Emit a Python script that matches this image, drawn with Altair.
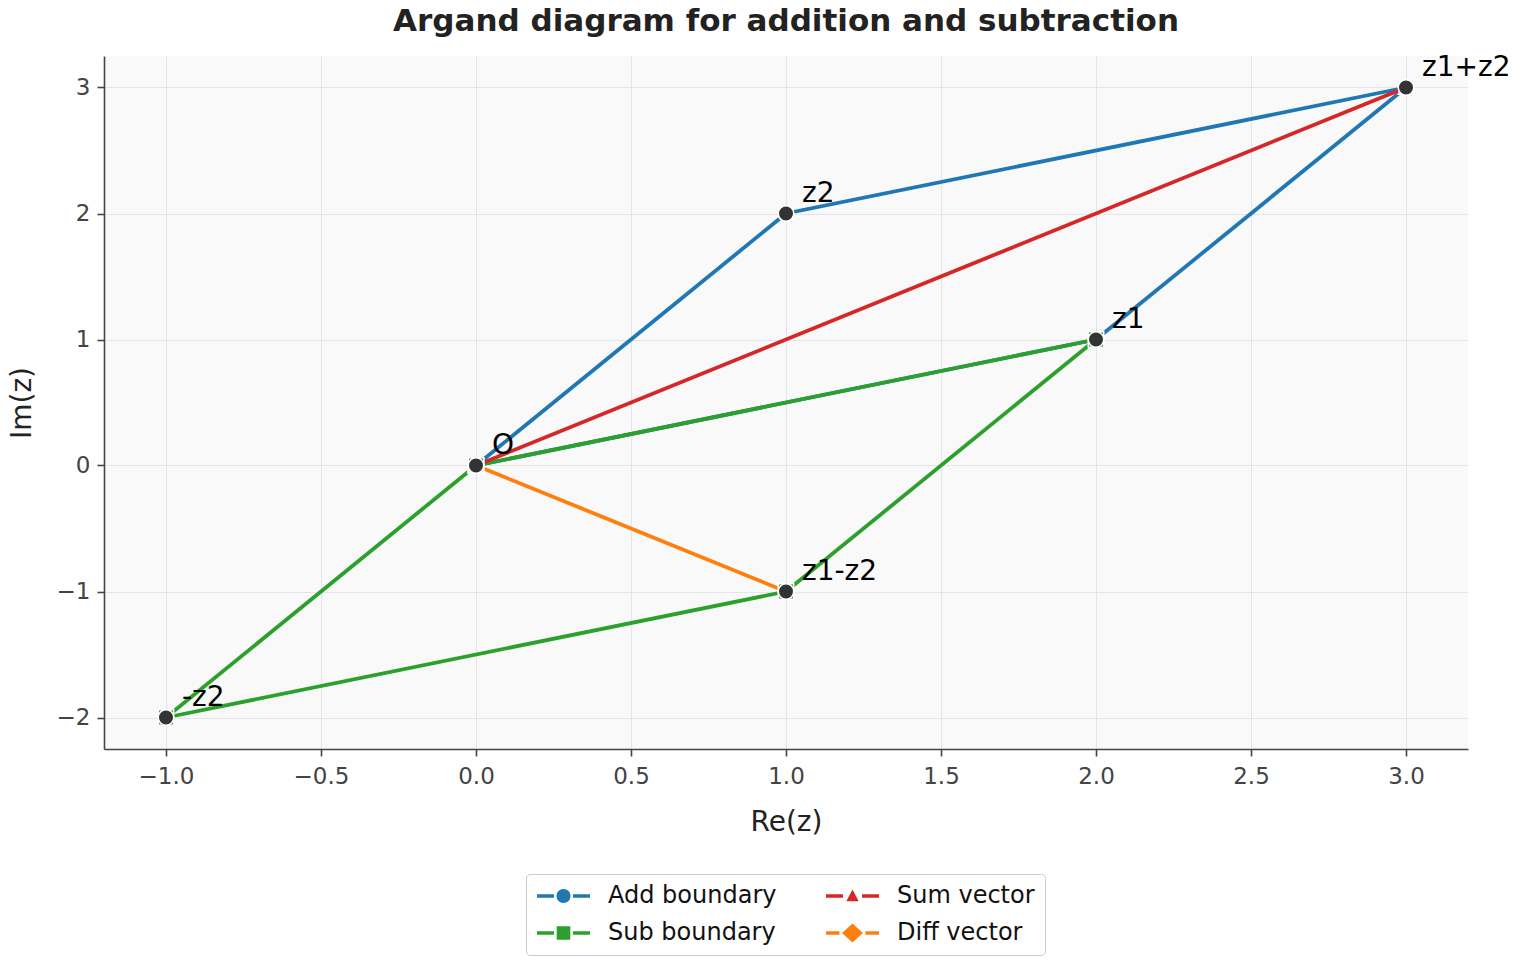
import math
import altair as alt
import pandas as pd

# ---------------- data ----------------
series_names = ["Add boundary", "Sub boundary", "Sum vector", "Diff vector"]
series_colors = ["#1f77b4", "#2ca02c", "#d62728", "#ff7f0e"]
series_shapes = ["circle", "square", "triangle-up", "diamond"]

add_re = [0, 2, 3, 1, 0]
add_im = [0, 1, 3, 2, 0]
sub_re = [0, 2, 1, -1, 0]
sub_im = [0, 1, -1, -2, 0]
sum_re = [0, 3]
sum_im = [0, 3]
diff_re = [0, 1]
diff_im = [0, -1]

point_labels = ["O", "z1", "z2", "z1+z2", "z1-z2", "-z2"]
point_re = [0, 2, 1, 3, 1, -1]
point_im = [0, 1, 2, 3, -1, -2]

x_ticks = [-1.0, -0.5, 0.0, 0.5, 1.0, 1.5, 2.0, 2.5, 3.0]
y_ticks = [-2, -1, 0, 1, 2, 3]
x_domain = [-1.2, 3.2]
y_domain = [-2.25, 3.25]

# ---------------- tables ----------------
rows = []
for name, xs, ys in [
    ("Add boundary", add_re, add_im),
    ("Sub boundary", sub_re, sub_im),
    ("Sum vector", sum_re, sum_im),
    ("Diff vector", diff_re, diff_im),
]:
    for i, (a, b) in enumerate(zip(xs, ys)):
        rows.append({"series": name, "re": a, "im": b, "seq": i})
lines_df = pd.DataFrame(rows)
points_df = pd.DataFrame({"label": point_labels, "re": point_re, "im": point_im})

FONT = "DejaVu Sans"

# ---------------- legend glyphs (line + marker, all filled) ----------------
SYM_S = 22.0  # sqrt(symbolSize)
U = SYM_S / 2.0  # px per path unit
HALF = 26.5  # half glyph width in px
LW = 1.75  # half line thickness in px


def f(v):
    return f"{v / U:.3f}"


def poly(pts):
    return "M" + "L".join(f"{f(a)},{f(b)}" for a, b in pts) + "Z"


def glyph(kind):
    gap = 13.0 if kind == "diamond" else 9.5
    p = poly([(-HALF, -LW), (-gap, -LW), (-gap, LW), (-HALF, LW)])
    p += poly([(gap, -LW), (HALF, -LW), (HALF, LW), (gap, LW)])
    if kind == "circle":
        r = 7.0
        pts = [(r * math.cos(2 * math.pi * k / 32), r * math.sin(2 * math.pi * k / 32)) for k in range(32)]
    elif kind == "square":
        h = 6.8
        pts = [(-h, -h), (h, -h), (h, h), (-h, h)]
    elif kind == "triangle-up":
        pts = [(0, -6.5), (6.2, 5.2), (-6.2, 5.2)]
    else:
        pts = [(0, -9.5), (10.5, 0), (0, 9.5), (-10.5, 0)]
    return p + poly(pts)


legend_paths = [glyph(s) for s in series_shapes]

W_ENTRY = math.ceil(SYM_S)
SYM_OFF = HALF - W_ENTRY / 2.0
legend_def = alt.Legend(
    title=None,
    orient="none",
    legendX=422,
    legendY=818,
    direction="vertical",
    columns=2,
    columnPadding=48,
    rowPadding=13,
    padding=10,
    symbolSize=SYM_S * SYM_S,
    symbolStrokeWidth=0,
    symbolStrokeColor="transparent",
    symbolFillColor="#000000",
    symbolOffset=SYM_OFF,
    labelOffset=70 - W_ENTRY - SYM_OFF,
    labelFont=FONT,
    labelFontSize=24,
    labelColor="#111111",
    labelLimit=400,
    strokeColor="#cccccc",
    fillColor="#ffffff",
    cornerRadius=4,
)

# ---------------- encodings ----------------
x_enc = alt.X(
    "re:Q",
    scale=alt.Scale(domain=x_domain, nice=False, zero=False),
    axis=alt.Axis(values=x_ticks, format=".1f", title="Re(z)", titlePadding=20, labelPadding=9),
)
y_enc = alt.Y(
    "im:Q",
    scale=alt.Scale(domain=y_domain, nice=False, zero=False),
    axis=alt.Axis(values=y_ticks, format="d", title="Im(z)", titlePadding=20, labelPadding=7),
)
color_scale = alt.Scale(domain=series_names, range=series_colors)

base = alt.Chart(lines_df)

legend_layer = base.mark_point(filled=True, size=0, strokeWidth=0, opacity=1).encode(
    x=x_enc,
    y=y_enc,
    color=alt.Color("series:N", scale=color_scale, legend=legend_def),
    shape=alt.Shape("series:N", scale=alt.Scale(domain=series_names, range=legend_paths), legend=legend_def),
)

lines = base.mark_line(strokeWidth=3.8, strokeCap="butt").encode(
    x=x_enc,
    y=y_enc,
    color=alt.Color("series:N", scale=color_scale, legend=None),
    order=alt.Order("seq:Q"),
)

marker_layers = []
for name, shp in zip(series_names, series_shapes):
    marker_layers.append(
        base.transform_filter(alt.datum.series == name)
        .mark_point(filled=True, shape=shp, size=240, stroke="white", strokeWidth=1.5, opacity=1)
        .encode(
            x=x_enc,
            y=y_enc,
            color=alt.Color("series:N", scale=color_scale, legend=None),
        )
    )

pts_base = alt.Chart(points_df)
dark = pts_base.mark_point(
    filled=True, shape="circle", size=240, color="#333333", stroke="white", strokeWidth=1.5, opacity=1
).encode(x=x_enc, y=y_enc)

labels = pts_base.mark_text(
    align="left", baseline="alphabetic", dx=16, dy=-12, font=FONT, fontSize=28, color="#000000"
).encode(x=x_enc, y=y_enc, text="label:N")

chart = (
    alt.layer(legend_layer, lines, *marker_layers, dark, labels)
    .properties(
        width=1364,
        height=693,
        background="white",
        autosize=alt.AutoSizeParams(type="none"),
        padding={"left": 104, "top": 56, "right": 52, "bottom": 211},
        title=alt.TitleParams(
            "Argand diagram for addition and subtraction",
            font=FONT,
            fontSize=31,
            fontWeight="bold",
            color="#222222",
            anchor="middle",
            offset=16,
        ),
    )
    .configure_view(stroke=None, fill="#f9f9f9")
    .configure_axis(
        labelFont=FONT,
        labelFontSize=23,
        labelColor="#444444",
        titleFont=FONT,
        titleFontSize=28,
        titleFontWeight="normal",
        titleColor="#222222",
        domainColor="#444444",
        domainWidth=1.6,
        tickColor="#444444",
        tickWidth=1.6,
        tickSize=7,
        gridColor="#e4e4ea",
        gridWidth=1,
    )
)

chart.save("out.html", embed_options={"renderer": "svg", "actions": False})
